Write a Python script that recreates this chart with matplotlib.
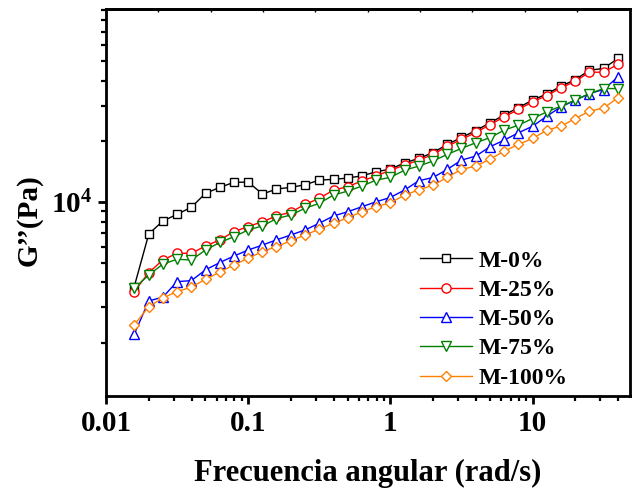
import matplotlib
matplotlib.use("Agg")
import matplotlib.pyplot as plt
from matplotlib.ticker import LogLocator, NullFormatter, FixedLocator

# Angular frequency (rad/s)
freq = [0.0158, 0.02, 0.0251, 0.0316, 0.0398, 0.0501, 0.0631, 0.0794, 0.1,
        0.126, 0.158, 0.2, 0.251, 0.316, 0.398, 0.501, 0.631, 0.794, 1.0,
        1.26, 1.58, 2.0, 2.51, 3.16, 3.98, 5.01, 6.31, 7.94, 10.0,
        12.6, 15.8, 20.0, 25.1, 31.6, 39.8]

# Loss modulus G'' (Pa)
g_m0 = [3810, 6950, 8050, 8690, 9420, 11040, 11825, 12520, 12560,
        10955, 11600, 11825, 12180, 12850, 12950, 13150, 13490, 14130, 14560,
        15650, 16450, 17600, 19300, 20900, 22600, 24700, 27000, 29400, 32000,
        34400, 37500, 40500, 45000, 46000, 51500]
g_m25 = [3600, 4470, 5160, 5570, 5570, 6050, 6490, 7130, 7560,
         7990, 8530, 8920, 9740, 10420, 11480, 11910, 12740, 13450, 14400,
         15240, 16140, 17220, 18920, 20430, 22130, 24150, 26440, 28770, 31380,
         33740, 36790, 39720, 44030, 44030, 48200]
g_m50 = [2210, 3235, 3375, 4030, 4075, 4610, 5010, 5400, 5780,
         6120, 6490, 6870, 7270, 7850, 8530, 8950, 9480, 10030, 10540,
         11480, 12740, 13250, 14520, 16140, 16890, 18790, 20280, 22030, 23770,
         26650, 29640, 31990, 34510, 36120, 41720]
g_m75 = [3740, 4350, 4920, 5200, 5160, 5780, 6300, 6730, 7270,
         7610, 8270, 8630, 9310, 9850, 10830, 11330, 11995, 12850, 13250,
         14400, 15060, 16000, 17220, 18440, 19670, 20850, 22720, 24040, 25950,
         28000, 29880, 31990, 34510, 36530, 36530]
g_m100 = [2460, 3030, 3340, 3600, 3780, 4140, 4490, 4880, 5260,
          5680, 6010, 6430, 6870, 7330, 7850, 8360, 8950, 9480, 9920,
          10830, 11480, 12140, 13250, 14520, 15060, 16300, 17880, 19300, 20660,
          22720, 23770, 25950, 28200, 29300, 32820]

labels = ["M-0%", "M-25%", "M-50%", "M-75%", "M-100%"]
series = [g_m0, g_m25, g_m50, g_m75, g_m100]
colors = ["#000000", "#FF0000", "#0000FF", "#008000", "#FF8000"]
markers = ["s", "o", "^", "v", "D"]
msizes = [5.3, 6.6, 6.8, 6.8, 5.2]

plt.rcParams["font.family"] = ["Liberation Serif", "DejaVu Serif"]
plt.rcParams["font.weight"] = "bold"
plt.rcParams["mathtext.fontset"] = "custom"
plt.rcParams["mathtext.rm"] = "Liberation Serif:bold"
plt.rcParams["mathtext.bf"] = "Liberation Serif:bold"
plt.rcParams["mathtext.it"] = "Liberation Serif:bold:italic"

fig = plt.figure(figsize=(6.34, 4.91), dpi=100)
ax = fig.add_axes([106 / 634, 1 - 396 / 491, (629.5 - 106) / 634, (396 - 9) / 491])

for y, lab, c, m, ms in zip(series, labels, colors, markers, msizes):
    ax.plot(freq, y, color=c, marker=m, markersize=ms, markerfacecolor="white",
            markeredgecolor=c, markeredgewidth=1.0, linewidth=1.0, label=lab)

ax.set_xscale("log")
ax.set_yscale("log")
ax.set_xlim(0.01, 48)
ax.set_ylim(1092, 90600)

ax.xaxis.set_major_locator(FixedLocator([0.01, 0.1, 1, 10]))
ax.set_xticklabels(["0.01", "0.1", "1", "10"])
ax.xaxis.set_minor_locator(LogLocator(base=10, subs=range(2, 10)))
ax.xaxis.set_minor_formatter(NullFormatter())
ax.yaxis.set_major_locator(FixedLocator([1e4]))
ax.set_yticklabels([r"$\mathbf{10^4}$"])
ax.yaxis.set_minor_locator(LogLocator(base=10, subs=range(2, 10)))
ax.yaxis.set_minor_formatter(NullFormatter())

ax.tick_params(axis="both", which="major", direction="out", length=6, width=2,
               labelsize=21, pad=4)
ax.tick_params(axis="both", which="minor", direction="out", length=3.5, width=1.6)
ax.tick_params(top=False, right=False, which="both")
for lbl in ax.get_xticklabels() + ax.get_yticklabels():
    lbl.set_fontweight("bold")

for sp in ax.spines.values():
    sp.set_linewidth(2)

# Short inward marks along the top edge
top = ax.twiny()
top.set_xlim(0, 10)
top.xaxis.set_major_locator(FixedLocator(range(1, 10)))
top.tick_params(axis="x", direction="in", length=2.5, width=1, labeltop=False)
top.set_xticklabels([])
top.spines["top"].set_linewidth(2)

ax.set_xlabel("Frecuencia angular (rad/s)", fontsize=22, fontweight="bold", labelpad=16)
ax.set_ylabel("G\u2019\u2019(Pa)", fontsize=21, fontweight="bold")
ax.yaxis.set_label_coords(-0.122, 0.455)

leg = ax.legend(loc="upper left", bbox_to_anchor=(420 / 634, 1 - 250 / 491),
                bbox_transform=fig.transFigure, frameon=False, numpoints=1,
                prop={"family": "Liberation Serif", "weight": "bold", "size": 17},
                handlelength=2.2, handletextpad=0.3, labelspacing=0.33,
                borderpad=0, borderaxespad=0)

fig.savefig("out.png", dpi=100)
